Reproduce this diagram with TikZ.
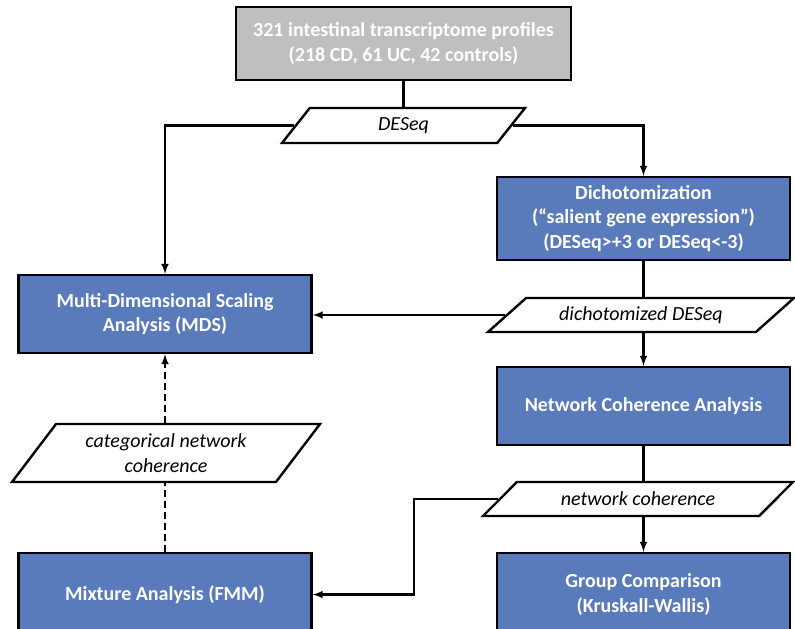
\documentclass[tikz,border=0pt]{standalone}
\usepackage{fontspec}
\setmainfont{Carlito}
\usetikzlibrary{shapes.geometric}
\definecolor{boxblue}{RGB}{89,122,187}
\definecolor{boxgray}{RGB}{191,191,191}

\begin{document}
\begin{tikzpicture}[>=latex,x=1pt,y=-1pt,line width=2.4pt,
	box/.style={draw,fill=boxblue,text=white,align=center,minimum width=293pt,inner sep=4pt,
		font=\fontsize{20}{24.5}\selectfont\bfseries},
	data/.style={draw,fill=white,trapezium,trapezium stretches body,align=center,inner sep=2pt,
		font=\fontsize{20}{24.5}\selectfont\itshape},
	dashline/.style={dash pattern=on 7pt off 4pt}]
\useasboundingbox (0,0) rectangle (795,629);

\node[box,fill=boxgray,minimum width=335pt,minimum height=73pt] (profiles) at (403.5,43.5) {321 intestinal transcriptome profiles\\(218 CD, 61 UC, 42 controls)};
\node[data,minimum width=243pt,minimum height=35pt,trapezium left angle=36,trapezium right angle=144] (deseq) at (403.5,125.5) {DESeq};

\node[box,minimum height=78pt] (mds) at (165,314) {Multi-Dimensional Scaling\\Analysis (MDS)};
\node[box,minimum height=83pt] (dicho) at (643.5,218.5) {Dichotomization\\(“salient gene expression”)\\(DESeq>+3 or DESeq<-3)};
\node[data,minimum width=306pt,minimum height=34pt,trapezium left angle=29,trapezium right angle=151] (dichdata) at (641,315) {dichotomized DESeq};

\node[box,minimum height=78pt] (nca) at (643.5,406) {Network Coherence Analysis};
\node[data,minimum width=310pt,minimum height=34pt,trapezium left angle=28,trapezium right angle=152] (netcoh) at (638,499) {network coherence};
\node[data,minimum width=308pt,minimum height=58pt,trapezium left angle=44,trapezium right angle=136] (catcoh) at (166,453) {categorical network\\coherence};

\node[box,minimum height=83pt] (group) at (643.5,594.5) {Group Comparison\\(Kruskall-Wallis)};
\node[box,minimum height=83pt] (fmm) at (165,594.5) {Mixture Analysis (FMM)};
\coordinate (knee) at (414,499);

\draw (profiles) -- (deseq);
\draw[->] (deseq.left side) -| (mds);
\draw[->] (deseq.right side) -| (dicho);
\draw (dicho.south) -- (dicho.south |- dichdata.north);
\draw[->] (dichdata.left side) -- (dichdata.left side -| mds.east);
\draw[->] (dicho.south |- dichdata.south) -- (nca);
\draw (nca.south) -- (nca.south |- netcoh.north);
\draw[->] (nca.south |- netcoh.south) -- (group);
\draw[->] (netcoh.left side) -- (knee) |- (fmm);
\draw[dashline] (fmm.north) -- (fmm.north |- catcoh.south);
\draw[dashline,->] (mds.south |- catcoh.north) -- (mds);

\end{tikzpicture}
\end{document}
